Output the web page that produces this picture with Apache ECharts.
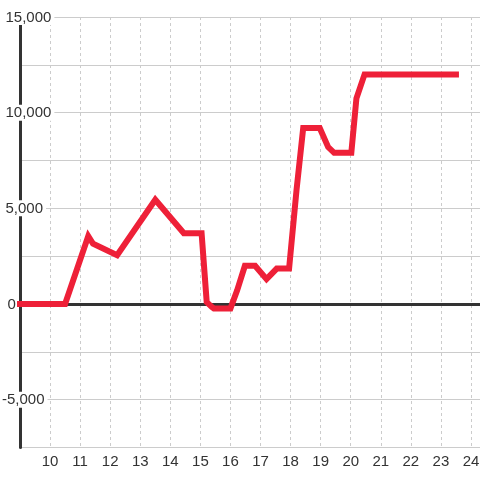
<!DOCTYPE html>
<html>
<head>
<meta charset="utf-8">
<script src="https://cdn.jsdelivr.net/npm/echarts@6/dist/echarts.min.js"></script>
<style>
    html, body { margin: 0; padding: 0; background: #fff; }
    #chart { width: 480px; height: 480px; }
</style>
</head>
<body>
<div id="chart"></div>
<script>
// hours along the x axis, value at each vertex of the line
var hours = [9, 10.5, 11.27, 11.43, 12.23, 13.5, 14.45, 15.04, 15.21, 15.38, 15.45, 16.0, 16.22, 16.48,
    16.82, 17.2, 17.54, 17.95, 18.2, 18.42, 18.97, 19.25, 19.45, 20.02, 20.19, 20.46, 23.5];
var values = [0, 0, 3550, 3150, 2550, 5450, 3700, 3700, 100, -150, -230, -230, 700, 2000,
    2000, 1300, 1850, 1850, 6000, 9200, 9200, 8200, 7900, 7900, 10750, 12000, 12000];
var yTickValues = [-5000, 0, 5000, 10000, 15000];
var yTickLabels = ['-5,000', '0', '5,000', '10,000', '15,000'];

var chart = echarts.init(document.getElementById('chart'));

var points = hours.map(function (h, i) { return [h, values[i]]; });

var labelFont = { fontFamily: 'Liberation Sans', fontSize: 15, color: '#333' };

var option = {
    backgroundColor: '#fff',
    animation: false,
    grid: { left: 20, right: 0, top: 17, bottom: 32.5, outerBoundsMode: 'none', containLabel: false },
    xAxis: [
        {
            type: 'value',
            min: 9,
            max: 24.3,
            interval: 1,
            axisLine: { show: false, onZero: false },
            axisTick: { show: false },
            axisLabel: {
                margin: 7,
                fontFamily: 'Liberation Sans',
                fontSize: 15,
                color: '#333',
                formatter: function (v) {
                    return (v > 9 && v % 1 === 0) ? String(v) : '';
                }
            },
            splitLine: { lineStyle: { color: '#ccc', width: 1, type: [3, 3] } }
        },
        {
            // zero line
            type: 'value',
            min: 9,
            max: 24.3,
            position: 'bottom',
            axisLine: { show: true, onZero: true, lineStyle: { color: '#333', width: 3 } },
            axisTick: { show: false },
            axisLabel: { show: false },
            splitLine: { show: false }
        }
    ],
    yAxis: {
        type: 'value',
        min: -7500,
        max: 15000,
        interval: 2500,
        axisLine: { show: true, onZero: false, lineStyle: { color: '#333', width: 3 } },
        axisTick: { show: false },
        axisLabel: {
            align: 'left',
            margin: 18,
            formatter: function (v) {
                var i = yTickValues.indexOf(v);
                if (i < 0) return '';
                var key = v < 0 ? 'n' : (v === 0 ? 'z' : 'p');
                return '{' + key + '|' + yTickLabels[i] + '}';
            },
            rich: {
                p: Object.assign({ backgroundColor: '#fff', padding: [1, 3, 0, 3.5], lineHeight: 14 }, labelFont),
                z: Object.assign({ backgroundColor: '#fff', padding: [1, 2, 0, 5.5], lineHeight: 14 }, labelFont),
                n: Object.assign({ backgroundColor: '#fff', padding: [1, 3, 0, 0], lineHeight: 14 }, labelFont)
            }
        },
        splitLine: { lineStyle: { color: '#ccc', width: 1 } }
    },
    series: [
        {
            type: 'line',
            xAxisIndex: 0,
            data: points,
            showSymbol: false,
            z: 3,
            lineStyle: { color: '#ee2038', width: 6, cap: 'square', join: 'miter' }
        }
    ]
};

chart.setOption(option);
window.addEventListener('resize', function () {
    chart.resize();
});
</script>
</body>
</html>
